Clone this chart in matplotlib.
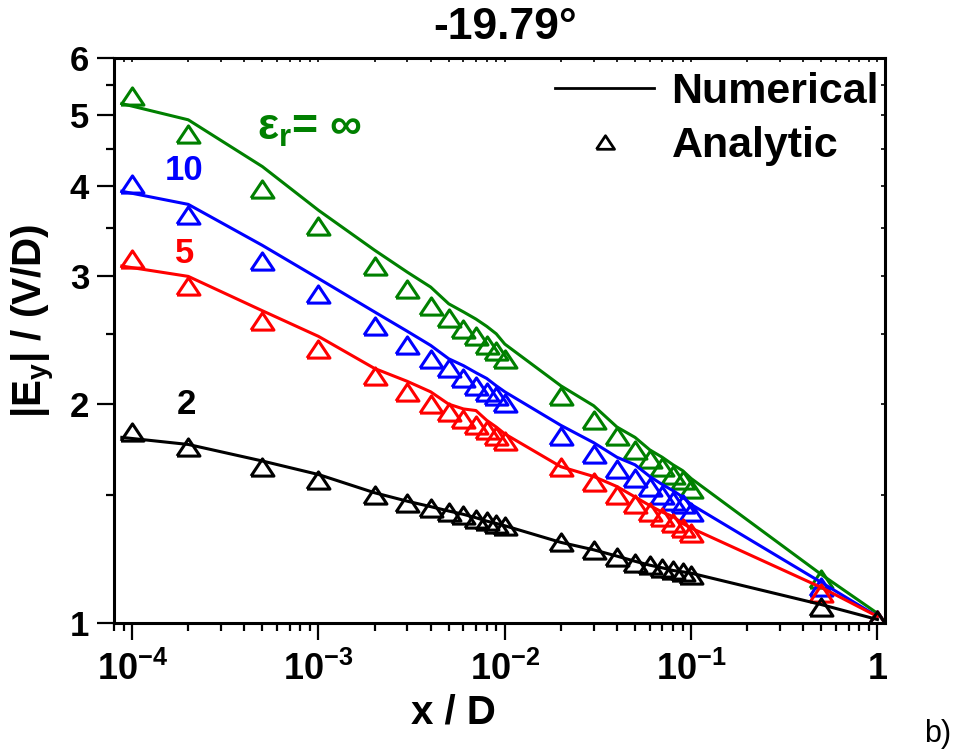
import matplotlib
matplotlib.use("Agg")
import matplotlib.pyplot as plt
from matplotlib.lines import Line2D
from matplotlib.ticker import FixedLocator, NullFormatter

plt.rcParams['font.family'] = 'Liberation Sans'
plt.rcParams['font.weight'] = 'bold'
plt.rcParams['mathtext.fontset'] = 'custom'
plt.rcParams['mathtext.rm'] = 'Liberation Sans:bold'
plt.rcParams['mathtext.it'] = 'Liberation Sans:bold'
plt.rcParams['mathtext.bf'] = 'Liberation Sans:bold'

# x positions (x / D)
x_num = [8.8e-5, 2e-4, 5e-4, 1e-3, 2e-3, 3e-3, 4e-3, 5e-3, 6e-3, 7e-3, 8e-3, 9e-3,
         1e-2, 2e-2, 3e-2, 4e-2, 5e-2, 6e-2, 7e-2, 8e-2, 9e-2, 0.1, 0.5, 1.0]
x_an = [1e-4, 2e-4, 5e-4, 1e-3, 2e-3, 3e-3, 4e-3, 5e-3, 6e-3, 7e-3, 8e-3, 9e-3,
        1e-2, 2e-2, 3e-2, 4e-2, 5e-2, 6e-2, 7e-2, 8e-2, 9e-2, 0.1, 0.5, 1.0]

# numerical |Ey| curves
num_inf = [5.19, 4.93, 4.25, 3.70, 3.26, 3.04, 2.90, 2.75, 2.68, 2.62, 2.56, 2.50,
           2.42, 2.12, 1.99, 1.86, 1.80, 1.73, 1.69, 1.65, 1.62, 1.58, 1.165, 1.03]
num_10 = [3.93, 3.77, 3.31, 2.98, 2.68, 2.52, 2.41, 2.31, 2.26, 2.21, 2.17, 2.12,
          2.08, 1.87, 1.77, 1.69, 1.65, 1.59, 1.55, 1.52, 1.49, 1.455, 1.136, 1.02]
num_5 = [3.10, 3.00, 2.69, 2.48, 2.24, 2.15, 2.08, 2.00, 1.97, 1.96, 1.90, 1.86,
         1.82, 1.64, 1.59, 1.54, 1.49, 1.45, 1.42, 1.40, 1.37, 1.35, 1.118, 1.02]
num_2 = [1.80, 1.76, 1.67, 1.60, 1.51, 1.47, 1.445, 1.425, 1.41, 1.395, 1.38, 1.37,
         1.36, 1.29, 1.26, 1.235, 1.215, 1.20, 1.19, 1.18, 1.175, 1.17, 1.059, 1.01]

# analytic |Ey| points
an_inf = [5.31, 4.72, 3.96, 3.52, 3.10, 2.88, 2.73, 2.63, 2.54, 2.48, 2.41, 2.37,
          2.31, 2.05, 1.90, 1.81, 1.73, 1.68, 1.64, 1.60, 1.57, 1.53, 1.15, 1.01]
an_10 = [4.02, 3.64, 3.15, 2.84, 2.56, 2.41, 2.31, 2.24, 2.17, 2.12, 2.08, 2.05,
         2.01, 1.81, 1.71, 1.63, 1.58, 1.54, 1.50, 1.47, 1.455, 1.42, 1.12, 1.01]
an_5 = [3.17, 2.91, 2.60, 2.38, 2.19, 2.08, 2.00, 1.95, 1.91, 1.87, 1.84, 1.81,
        1.78, 1.64, 1.56, 1.50, 1.455, 1.42, 1.40, 1.37, 1.35, 1.33, 1.10, 1.01]
an_2 = [1.83, 1.745, 1.64, 1.57, 1.50, 1.46, 1.44, 1.42, 1.405, 1.39, 1.38, 1.366,
        1.357, 1.29, 1.26, 1.23, 1.21, 1.20, 1.19, 1.18, 1.176, 1.165, 1.05, 1.01]

colors = ['#008000', '#0000ff', '#ff0000', 'black']
num_series = [num_inf, num_10, num_5, num_2]
an_series = [an_inf, an_10, an_5, an_2]
eps_labels = ['$ε_{r}$= ∞', '10', '5', '2']

x_ticks = [1e-4, 1e-3, 1e-2, 1e-1, 1]
x_ticklabels = ['$10^{-4}$', '$10^{-3}$', '$10^{-2}$', '$10^{-1}$', '1']
y_ticks = [1, 2, 3, 4, 5, 6]
y_minor = [1.5, 2.5, 3.5, 4.5, 5.5]

# flattened triangle marker
tri = [(-1, -0.75), (1, -0.75), (0, 0.75), (-1, -0.75)]

fig = plt.figure(figsize=(9.59, 7.52), dpi=100)
ax = fig.add_axes([0.119, 0.172, 0.804, 0.751])

for c, yn, ya in zip(colors, num_series, an_series):
    ax.plot(x_num, yn, color=c, lw=2.2)
    ax.plot(x_an, ya, ls='none', marker=tri, ms=16.5, mfc='none', mec=c, mew=2.2)

ax.set_xscale('log')
ax.set_yscale('log')
ax.set_xlim(8e-5, 1.1)
ax.set_ylim(1, 6)

ax.xaxis.set_major_locator(FixedLocator(x_ticks))
ax.set_xticklabels(x_ticklabels)
ax.yaxis.set_major_locator(FixedLocator(y_ticks))
ax.set_yticklabels([str(v) for v in y_ticks])
ax.yaxis.set_minor_locator(FixedLocator(y_minor))
ax.yaxis.set_minor_formatter(NullFormatter())
ax.xaxis.set_minor_formatter(NullFormatter())

ax.tick_params(which='major', direction='out', length=12, width=1.6)
ax.tick_params(which='minor', direction='out', length=6, width=1.6)
ax.tick_params(axis='x', labelsize=26, pad=9)
ax.tick_params(axis='y', labelsize=25, pad=6)
for s in ax.spines.values():
    s.set_linewidth(2.2)

# inward ticks on top and right
axr = ax.twinx()
axr.set_yscale('log')
axr.set_ylim(1, 6)
axr.yaxis.set_major_locator(FixedLocator(y_ticks))
axr.yaxis.set_minor_locator(FixedLocator(y_minor))
axr.tick_params(which='both', direction='in', length=3, width=1.2, labelright=False)
axt = ax.twiny()
axt.set_xscale('log')
axt.set_xlim(8e-5, 1.1)
axt.xaxis.set_major_locator(FixedLocator(x_ticks))
axt.tick_params(which='both', direction='in', length=3, width=1.2, labeltop=False)
axt.xaxis.set_minor_formatter(NullFormatter())

ax.set_xlabel('x / D', fontsize=29, fontweight='bold')
ax.xaxis.set_label_coords(0.44, -0.125)
ax.set_ylabel('|E$_{y}$| / (V/D)', fontsize=29, fontweight='bold')
ax.yaxis.set_label_coords(-0.074, 0.535)

fig.text(0.527, 0.964, '-19.79°', fontsize=32, ha='center', va='center')

# curve labels
ax.text(9.0e-4, 4.80, eps_labels[0], color=colors[0], fontsize=32, ha='center', va='center')
ax.text(1.9e-4, 4.20, eps_labels[1], color=colors[1], fontsize=25, ha='center', va='center')
ax.text(1.9e-4, 3.23, eps_labels[2], color=colors[2], fontsize=25, ha='center', va='center')
ax.text(1.95e-4, 2.0, eps_labels[3], color=colors[3], fontsize=25, ha='center', va='center')

handles = [Line2D([], [], color='black', lw=2.0),
           Line2D([], [], ls='none', marker=tri, ms=13, mfc='none', mec='black', mew=2.0)]
ax.legend(handles, ['Numerical', 'Analytic'], loc='upper right', bbox_to_anchor=(0.992, 0.975),
          frameon=False, fontsize=31, handlelength=2.3, handletextpad=0.4,
          labelspacing=0.33, borderpad=0, borderaxespad=0)

fig.text(0.992, 0.004, 'b)', fontsize=22, fontweight='normal', ha='right', va='bottom')

fig.savefig('out.png', dpi=100)
